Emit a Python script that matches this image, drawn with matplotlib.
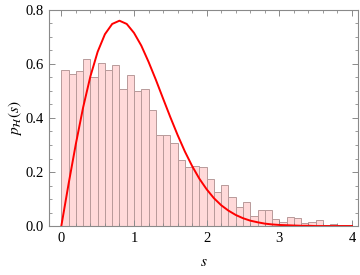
import matplotlib
matplotlib.use("Agg")
import matplotlib.pyplot as plt
from matplotlib.ticker import MultipleLocator

plt.rcParams['font.family'] = ['Liberation Serif', 'DejaVu Serif']
plt.rcParams['mathtext.fontset'] = 'stix'

# histogram of spacings, bin width 0.1 from 0 to 4
bin_left = [i / 10 for i in range(40)]
bin_height = [0.578, 0.563, 0.575, 0.617, 0.553, 0.605, 0.578, 0.595, 0.506, 0.559,
              0.499, 0.509, 0.430, 0.337, 0.337, 0.309, 0.244, 0.220, 0.222, 0.217,
              0.173, 0.127, 0.151, 0.109, 0.072, 0.088, 0.037, 0.058, 0.058, 0.025,
              0.014, 0.033, 0.028, 0.011, 0.014, 0.021, 0.005, 0.007, 0.005, 0.004]

# red curve
curve_s = [i / 10 for i in range(41)]
curve_p = [0.0, 0.156, 0.304, 0.439, 0.554, 0.645, 0.710, 0.748, 0.760, 0.748,
           0.715, 0.668, 0.608, 0.542, 0.472, 0.403, 0.337, 0.276, 0.222, 0.175,
           0.136, 0.103, 0.077, 0.057, 0.041, 0.029, 0.020, 0.014, 0.009, 0.006,
           0.004, 0.003, 0.002, 0.001, 0.001, 0.0, 0.0, 0.0, 0.0, 0.0, 0.0]

fig = plt.figure(figsize=(3.6, 2.75), dpi=100)
ax = fig.add_axes([0.136, 0.178, 0.858, 0.786])

ax.bar(bin_left, bin_height, width=0.1, align='edge',
       color='#ffd9d9', edgecolor='#b89a9a', linewidth=0.7)
ax.plot(curve_s, curve_p, color='red', linewidth=1.4, solid_joinstyle='round')

ax.set_xlim(-0.17, 4.08)
ax.set_ylim(0, 0.8)
ax.xaxis.set_major_locator(MultipleLocator(1))
ax.xaxis.set_minor_locator(MultipleLocator(0.2))
ax.yaxis.set_major_locator(MultipleLocator(0.2))
ax.yaxis.set_minor_locator(MultipleLocator(0.05))
ax.yaxis.set_major_formatter(matplotlib.ticker.FormatStrFormatter('%.1f'))

for sp in ax.spines.values():
    sp.set_color('#8a8a8a')
    sp.set_linewidth(0.8)
ax.tick_params(which='both', direction='in', top=True, right=True,
               color='#8a8a8a', labelsize=10.5, pad=4)
ax.tick_params(which='major', length=4, width=0.7)
ax.tick_params(which='minor', length=2, width=0.6)

ax.set_xlabel('$s$', fontsize=11, labelpad=8)
ax.set_ylabel(r'$p_{\mathcal{H}}(s)$', fontsize=11, labelpad=1)

fig.savefig('out.png', dpi=100)
